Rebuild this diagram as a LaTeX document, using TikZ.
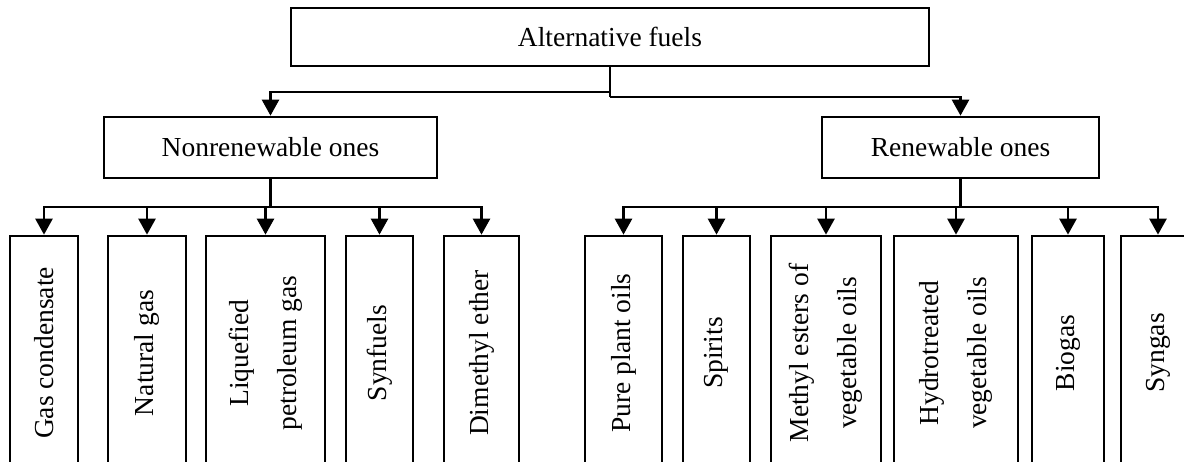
\documentclass[tikz,border=0pt]{standalone}
\usepackage{fontspec}
\setmainfont{Liberation Serif}
\usetikzlibrary{arrows.meta}
\begin{document}
\begin{tikzpicture}[x=1pt,y=-1pt,
  box/.style={draw, line width=2.7pt, inner sep=0pt, font=\fontsize{27.5}{48}\selectfont},
  hbox/.style={box, minimum height=61pt},
  leaf/.style={box, rotate=90, minimum width=234pt, align=center},
  conn/.style={line width=2.6pt},
  arr/.style={conn, -{Triangle[width=17pt,length=16pt]}}]
\useasboundingbox (0,0) rectangle (1184,461);
\clip (0,0) rectangle (1184,461);
\fill[white] (0,0) rectangle (1184,461);
% top levels
\node[box, minimum width=638pt, minimum height=58pt] (top) at (610,37) {Alternative fuels};
\node[hbox, minimum width=333pt] (non) at (270.5,147.5) {Nonrenewable ones};
\node[hbox, minimum width=277pt] (ren) at (960.5,147.5) {Renewable ones};
% leaves
\node[leaf, minimum height=68pt]  (l1)  at (44,353)    {Gas condensate};
\node[leaf, minimum height=78pt]  (l2)  at (147,353)   {Natural gas};
\node[leaf, minimum height=119pt] (l3)  at (265.5,353) {Liquefied\\petroleum gas};
\node[leaf, minimum height=67pt]  (l4)  at (379.5,353) {Synfuels};
\node[leaf, minimum height=75pt]  (l5)  at (481.5,353) {Dimethyl ether};
\node[leaf, minimum height=77pt]  (r1)  at (623.5,353) {Pure plant oils};
\node[leaf, minimum height=67pt]  (r2)  at (716.5,353) {Spirits};
\node[leaf, minimum height=110pt] (r3)  at (826,353)   {Methyl esters of\\vegetable oils};
\node[leaf, minimum height=124pt] (r4)  at (956,353)   {Hydrotreated\\vegetable oils};
\node[leaf, minimum height=72pt]  (r5)  at (1068,353)  {Biogas};
\node[leaf, minimum height=74pt]  (r6)  at (1158,353)  {Syngas};
% junctions
\coordinate (j1) at (610,92);
\coordinate (j2) at (610,97);
\coordinate (bn) at (270.5,207);
\coordinate (br) at (960.5,207);
% connectors
\draw[conn] (top.south) -- (j2);
\draw[arr] (j1) -| (non.north);
\draw[arr] (j2) -| (ren.north);
\draw[conn] (non.south) -- (bn);
\draw[conn] (ren.south) -- (br);
\foreach \n in {l1,l2,l3,l4,l5} \draw[arr] (bn) -| (\n.east);
\foreach \n in {r1,r2,r3,r4,r5,r6} \draw[arr] (br) -| (\n.east);
\end{tikzpicture}
\end{document}
